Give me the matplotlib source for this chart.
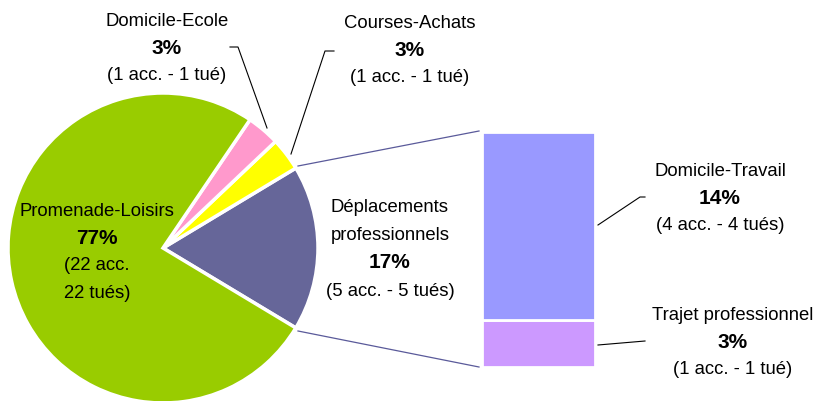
import matplotlib.pyplot as plt

# pie: main purposes of travel (number of accidents)
pie_labels = ['Déplacements\nprofessionnels', 'Courses-Achats', 'Domicile-Ecole', 'Promenade-Loisirs']
pie_acc = [5, 1, 1, 22]
pie_tues = [5, 1, 1, 22]
pie_pct = ['17%', '3%', '3%', '77%']
pie_colors = ['#666699', '#FFFF00', '#FF99CC', '#99CC00']

# bar: split of "Déplacements professionnels"
bar_labels = ['Trajet professionnel', 'Domicile-Travail']
bar_acc = [1, 4]
bar_tues = [1, 4]
bar_pct = ['3%', '14%']
bar_colors = ['#CC99FF', '#9999FF']

H = 401
plt.rcParams['font.family'] = ['Liberation Sans', 'DejaVu Sans']

fig = plt.figure(figsize=(8.2, 4.01), dpi=100)
ax = fig.add_axes([0, 0, 1, 1])

total = sum(pie_acc)
start = -360 * pie_acc[0] / total / 2
wedges, _ = ax.pie(pie_acc, colors=pie_colors, startangle=start, counterclock=True,
                   center=(163, H - 248), radius=155,
                   wedgeprops=dict(edgecolor='white', linewidth=2.5))

unit = 47
bottom = H - 367
for v, c in zip(bar_acc, bar_colors):
    ax.bar(538.5, v * unit, width=113, bottom=bottom, color=c,
           edgecolor='white', linewidth=2)
    bottom += v * unit

ax.set_xlim(0, 820)
ax.set_ylim(0, H)
ax.set_aspect('auto')
ax.axis('off')

# connectors pie -> bar
ax.plot([298, 479], [H - 166, H - 131], color='#5a5a9a', lw=0.9)
ax.plot([298, 479], [H - 331, H - 367], color='#5a5a9a', lw=0.9)


def tues(n):
    return '1 tué' if n == 1 else '%d tués' % n


def label(x, y0, name, pct, acc, tue, gap=27.5, split=False):
    y = y0
    for ln in name.split('\n'):
        ax.text(x, H - y, ln, ha='center', va='center', fontsize=13.3)
        y += gap
    ax.text(x, H - y, pct, ha='center', va='center', fontsize=15, fontweight='bold')
    y += gap
    if split:
        ax.text(x, H - y, '(%d acc.' % acc, ha='center', va='center', fontsize=13.3)
        y += gap
        ax.text(x, H - y, '%s)' % tues(tue), ha='center', va='center', fontsize=13.3)
    else:
        ax.text(x, H - y, '(%d acc. - %s)' % (acc, tues(tue)), ha='center', va='center', fontsize=13.3)


label(390, 207, pie_labels[0], pie_pct[0], pie_acc[0], pie_tues[0], gap=28)
label(410, 23, pie_labels[1], pie_pct[1], pie_acc[1], pie_tues[1])
label(167, 21, pie_labels[2], pie_pct[2], pie_acc[2], pie_tues[2])
label(97, 212, pie_labels[3], pie_pct[3], pie_acc[3], pie_tues[3], gap=27, split=True)
label(733, 315, bar_labels[0], bar_pct[0], bar_acc[0], bar_tues[0])
label(720, 171, bar_labels[1], bar_pct[1], bar_acc[1], bar_tues[1])

# leader lines
ax.plot([230, 238, 267], [H - 47, H - 47, H - 128], color='black', lw=0.8)
ax.plot([334, 325, 291], [H - 51, H - 51, H - 154], color='black', lw=0.8)
ax.plot([598, 640, 645], [H - 225, H - 197, H - 197], color='black', lw=0.8)
ax.plot([598, 645], [H - 345, H - 341], color='black', lw=0.8)

fig.savefig('out.png', dpi=100)
